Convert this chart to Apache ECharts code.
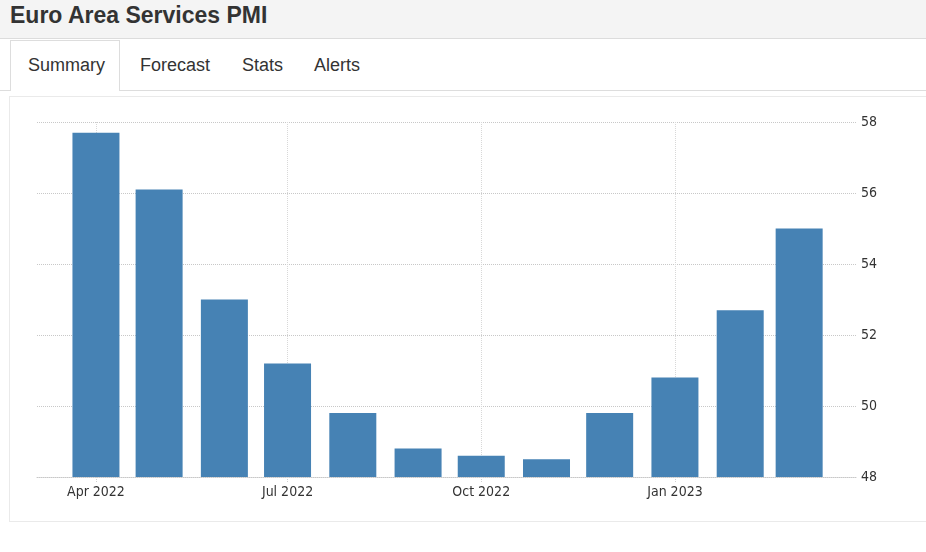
<!DOCTYPE html>
<html>
<head>
<meta charset="utf-8">
<script src="https://cdn.jsdelivr.net/npm/echarts@6/dist/echarts.min.js"></script>
<style>
  html, body { margin:0; padding:0; width:926px; height:552px; background:#fff; overflow:hidden; font-family:"Liberation Sans", Arial, sans-serif; }
  #titlebar { position:absolute; left:0; top:0; width:926px; height:38px; background:#f4f4f4; border-bottom:1px solid #dcdcdc; }
  #titlebar h1 { position:absolute; left:10px; top:2px; margin:0; font-size:23px; font-weight:bold; color:#333; line-height:26px; }
  #navline1 { position:absolute; left:0; top:90px; width:10px; height:1px; background:#ddd; }
  #navline2 { position:absolute; left:120px; top:90px; width:806px; height:1px; background:#ddd; }
  #tabactive { position:absolute; left:10px; top:40px; width:110px; height:51px; border:1px solid #ddd; border-bottom:none; box-sizing:border-box; background:#fff; }
  .tab { position:absolute; top:54px; font-size:18px; color:#333; line-height:22px; }
  #panel { position:absolute; left:9px; top:96px; width:930px; height:426px; border:1px solid #eaeaea; box-sizing:border-box; }
  #chart { position:absolute; left:10px; top:97px; width:916px; height:425px; }
</style>
</head>
<body>
<div id="titlebar"><h1>Euro Area Services PMI</h1></div>
<div id="tabactive"></div>
<div id="navline1"></div>
<div id="navline2"></div>
<div class="tab" style="left:28px">Summary</div>
<div class="tab" style="left:140px">Forecast</div>
<div class="tab" style="left:242px">Stats</div>
<div class="tab" style="left:314px">Alerts</div>
<div id="panel"></div>
<div id="chart"></div>
<script>
const months = ['2022-04-01','2022-05-01','2022-06-01','2022-07-01','2022-08-01','2022-09-01','2022-10-01','2022-11-01','2022-12-01','2023-01-01','2023-02-01','2023-03-01'];
const pmi = [57.7, 56.1, 53.0, 51.2, 49.8, 48.8, 48.6, 48.5, 49.8, 50.8, 52.7, 55.0];
const xTicks = ['2022-04-01','2022-07-01','2022-10-01','2023-01-01'];
const xTickLabels = ['Apr 2022','Jul 2022','Oct 2022','Jan 2023'];
const yMin = 48, yMax = 58, yStep = 2;

const toTs = s => { const p = s.split('-').map(Number); return Date.UTC(p[0], p[1]-1, p[2]); };
const tickTs = xTicks.map(toTs);
const labelMap = {};
tickTs.forEach((t, i) => { labelMap[t] = xTickLabels[i]; });

const axisFont = '"DejaVu Sans Condensed", "DejaVu Sans", sans-serif';
const chart = echarts.init(document.getElementById('chart'), null, {renderer:'canvas'});
chart.setOption({
  animation: false,
  grid: { left: 27, right: 70, top: 25, bottom: 45 },
  xAxis: {
    type: 'value',
    min: toTs('2022-03-04'),
    max: toTs('2023-03-28'),
    axisLine: { show: true, lineStyle: { color: '#c8c8c8', type: 'dotted' } },
    axisTick: { show: true, customValues: tickTs, length: 5, lineStyle: { color: '#d0d0d0', type: 'dotted' } },
    axisLabel: { customValues: tickTs, formatter: v => labelMap[v] || '', color: '#333', fontSize: 14, fontFamily: axisFont, margin: 8, hideOverlap: false },
    splitLine: { show: true, lineStyle: { color: '#d8d8d8', type: 'dotted' } }
  },
  yAxis: {
    type: 'value',
    position: 'right',
    min: yMin, max: yMax, interval: yStep,
    axisLine: { show: false },
    axisTick: { show: false },
    axisLabel: { color: '#333', fontSize: 14, fontFamily: axisFont, margin: 5 },
    splitLine: { show: true, lineStyle: { color: '#c8c8c8', type: 'dotted' } }
  },
  series: [{
    type: 'bar',
    data: months.map((m, i) => [toTs(m), pmi[i]]),
    barWidth: 47,
    itemStyle: { color: '#4682b4' },
    z: 3
  }]
});
</script>
</body>
</html>
